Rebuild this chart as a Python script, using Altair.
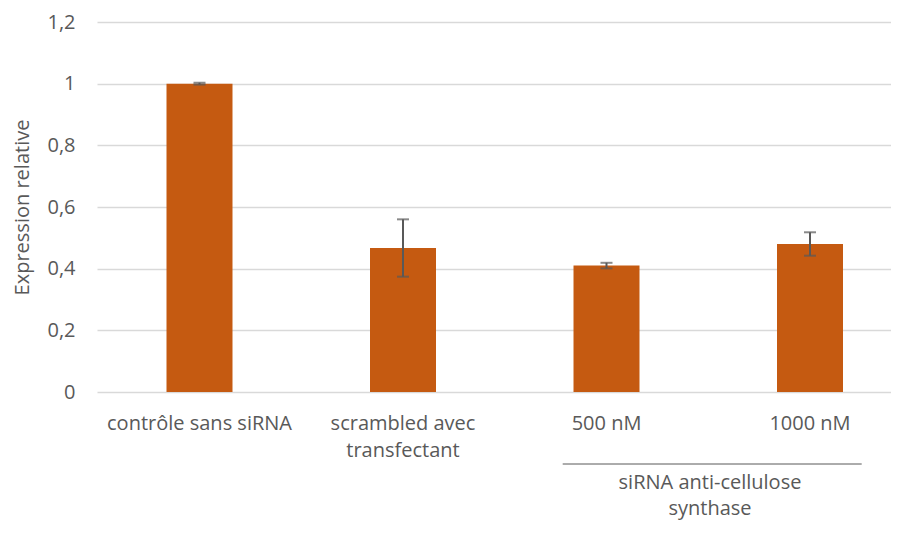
import altair as alt
import pandas as pd

categories = ["contrôle sans siRNA", "scrambled avec|transfectant", "500 nM", "1000 nM"]
values = [1.0, 0.467, 0.41, 0.48]
errors = [0.003, 0.093, 0.009, 0.038]
y_ticks = [0, 0.2, 0.4, 0.6, 0.8, 1.0, 1.2]
group_label = ["siRNA anti-cellulose", "synthase"]

df = pd.DataFrame({"cat": categories, "val": values, "err": errors})
df["lo"] = df["val"] - df["err"]
df["hi"] = df["val"] + df["err"]

FONT = "Open Sans"
GREY = "#595959"
BAR = "#C55A11"
FS = 20

xscale = alt.Scale(paddingInner=0.6757, paddingOuter=0.2887, align=0.5915, round=False)
x_axis = alt.Axis(
    title=None, labelAngle=0, labelExpr="split(datum.label, '|')",
    labelFontSize=FS, labelFont=FONT, labelColor=GREY, labelPadding=21.5,
    labelBaseline="top", labelLineHeight=27, ticks=False, tickSize=0,
    domain=False, labelLimit=0, grid=False,
)
y_axis = alt.Axis(
    values=y_ticks, labelExpr="replace(format(datum.value, '~g'), '.', ',')",
    grid=True, gridColor="#D9D9D9", gridWidth=1.5, domain=False, ticks=False,
    tickSize=0, labelPadding=22, labelFontSize=FS, labelFont=FONT, labelColor=GREY,
    title="Expression relative", titleX=-75, titleY=185, titleAngle=270,
    titleAlign="center", titleBaseline="middle", titleFontSize=FS,
    titleFont=FONT, titleFontWeight="normal", titleColor=GREY,
)
yscale = alt.Scale(domain=[0, 1.2], nice=False, zero=True)

base = alt.Chart(df)
bars = base.mark_bar(color=BAR).encode(
    x=alt.X("cat:N", sort=categories, scale=xscale, axis=x_axis),
    y=alt.Y("val:Q", scale=yscale, axis=y_axis),
)
ebar = base.mark_rule(color=GREY, strokeWidth=2).encode(
    x=alt.X("cat:N", sort=categories, scale=xscale, axis=x_axis),
    y=alt.Y("lo:Q", scale=yscale, axis=y_axis),
    y2="hi:Q",
)
cap_lo = base.mark_tick(color=GREY, thickness=2, size=12).encode(
    x=alt.X("cat:N", sort=categories, scale=xscale, axis=x_axis),
    y=alt.Y("lo:Q", scale=yscale, axis=y_axis),
)
cap_hi = base.mark_tick(color=GREY, thickness=2, size=12).encode(
    x=alt.X("cat:N", sort=categories, scale=xscale, axis=x_axis),
    y=alt.Y("hi:Q", scale=yscale, axis=y_axis),
)

ann = pd.DataFrame({"k": [0]})
group_rule = alt.Chart(ann).mark_rule(color=GREY, strokeWidth=1).encode(
    x=alt.value(465.7), x2=alt.value(764.7), y=alt.value(442)
)
group_text = alt.Chart(ann).mark_text(
    text=group_label, font=FONT, fontSize=FS, color=GREY, align="center",
    baseline="top", lineHeight=26,
).encode(x=alt.value(613), y=alt.value(450.5))

chart = alt.layer(bars, ebar, cap_lo, cap_hi, group_rule, group_text).properties(
    width=794, height=370,
    autosize=alt.AutoSizeParams(type="none"),
    padding={"left": 89, "top": 14, "right": 0, "bottom": 129},
    background="white",
).configure_view(stroke=None)

chart.save("out.html", embed_options={"renderer": "svg", "actions": False})
